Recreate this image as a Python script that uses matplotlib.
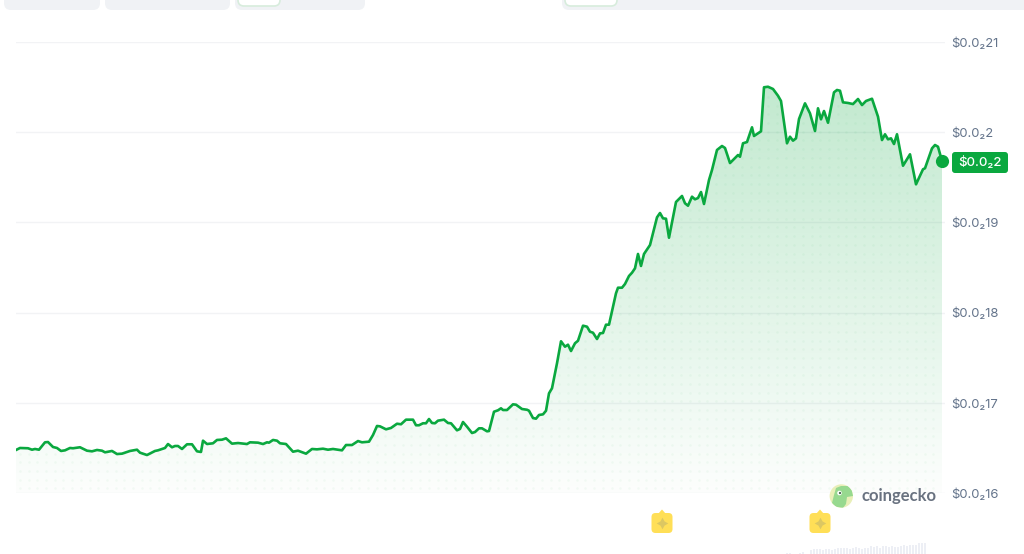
import numpy as np
import matplotlib
matplotlib.use("Agg")
import matplotlib.pyplot as plt
from matplotlib.patches import FancyBboxPatch, Circle, Polygon
from matplotlib.colors import LinearSegmentedColormap, to_rgb

plt.rcParams['font.family'] = ['Inter', 'DejaVu Sans']

time_steps = [16,20,28,32,35,39,45,48,53,57,61,65,70,73,80,87,92,97,102,105,112,117,122,130,137,140,147,155,158,163,165,168,172,175,178,182,187,192,197,201,203,207,213,217,222,226,232,238,247,250,258,263,267,269,273,277,280,286,293,298,306,312,317,323,328,333,342,346,352,358,362,369,373,377,380,386,391,397,401,406,413,416,419,423,426,429,432,435,438,444,448,451,457,460,463,467,472,475,479,482,487,489,494,498,501,503,507,513,516,522,527,529,533,536,539,543,546,549,552,557,561,565,568,571,575,578,583,587,590,593,597,600,603,606,609,616,618,622,625,629,632,635,638,641,644,650,657,660,663,666,669,676,682,685,688,692,695,698,701,704,709,712,717,722,725,730,735,738,740,743,747,752,754,761,764,768,773,778,781,787,790,793,796,799,805,810,815,818,821,824,828,834,837,840,843,848,853,858,862,866,872,878,882,885,888,891,894,897,903,910,916,923,925,932,935,938,942]
price_units = [16.477,16.499,16.496,16.480,16.488,16.480,16.562,16.565,16.510,16.499,16.466,16.473,16.499,16.496,16.507,16.469,16.462,16.477,16.469,16.451,16.466,16.432,16.436,16.466,16.480,16.447,16.421,16.466,16.473,16.491,16.499,16.543,16.507,16.521,16.521,16.488,16.540,16.540,16.462,16.455,16.580,16.543,16.551,16.588,16.591,16.606,16.547,16.554,16.543,16.562,16.558,16.543,16.562,16.558,16.588,16.580,16.551,16.543,16.458,16.469,16.436,16.488,16.484,16.491,16.480,16.488,16.473,16.532,16.532,16.576,16.562,16.569,16.643,16.743,16.739,16.706,16.721,16.768,16.762,16.813,16.813,16.751,16.751,16.773,16.773,16.820,16.776,16.773,16.802,16.813,16.776,16.773,16.695,16.710,16.787,16.735,16.665,16.676,16.717,16.717,16.684,16.687,16.901,16.917,16.939,16.920,16.920,16.983,16.979,16.931,16.923,16.912,16.831,16.824,16.865,16.872,16.912,17.105,17.161,17.438,17.682,17.622,17.644,17.574,17.660,17.688,17.855,17.844,17.788,17.777,17.707,17.770,17.774,17.866,17.866,18.214,18.276,18.276,18.317,18.406,18.442,18.491,18.650,18.517,18.650,18.749,19.056,19.104,19.045,19.041,18.830,19.226,19.293,19.212,19.185,19.285,19.256,19.270,19.337,19.204,19.470,19.581,19.803,19.847,19.825,19.658,19.714,19.747,19.728,19.877,19.891,20.054,19.958,20.010,20.498,20.504,20.479,20.404,20.346,19.877,19.950,19.906,19.932,20.146,20.320,20.209,20.013,20.265,20.143,20.235,20.105,20.442,20.468,20.460,20.331,20.324,20.312,20.368,20.301,20.346,20.371,20.172,19.913,19.977,19.921,19.932,19.869,19.977,19.628,19.755,19.422,19.589,19.600,19.821,19.858,19.839,19.680]
tick_values = [16, 17, 18, 19, 20, 21]
tick_labels = ["$0.0₂16", "$0.0₂17", "$0.0₂18", "$0.0₂19", "$0.0₂2", "$0.0₂21"]
current_label = "$0.0₂2"
event_steps = [662, 820]
volume_steps = [787,790,800,803,811,814,817,820,823,826,829,832,835,838,841,844,847,850,853,856,859,862,865,868,871,874,877,880,883,886,889,892,895,898,901,904,907,910,913,916,919,922,925]
volume_values = [1,1,1,2,4,5,5,5,4,5,5,4,5,6,6,6,6,5,6,7,6,5,6,6,8,7,8,6,8,8,7,8,7,7,8,9,8,9,9,9,11,11,11]

GREEN = "#0aa83f"
W, H = 1024, 554
fig = plt.figure(figsize=(W / 100, H / 100), dpi=100, facecolor="white")

x0, x1, ytop, ybot = 16, 945, 42, 493
ax = fig.add_axes([x0 / W, (H - ybot) / H, (x1 - x0) / W, (ybot - ytop) / H])
ax.set_facecolor("none")
for s in ax.spines.values():
    s.set_visible(False)

poly = ax.fill_between(time_steps, price_units, 16, color="none", linewidth=0)
clip = poly.get_paths()[0]

rgb = to_rgb(GREEN)
cmap = LinearSegmentedColormap.from_list("fade", [(*rgb, 0.012), (*rgb, 0.25)])
img = ax.imshow(np.linspace(1, 0, 256).reshape(-1, 1), extent=(16, 942, 16, 20.5),
                aspect="auto", cmap=cmap, vmin=0, vmax=1, zorder=1, interpolation="bilinear")
img.set_clip_path(clip, ax.transData)

gx, gy = np.meshgrid(np.arange(20, 942, 8.7), np.arange(16.05, 20.5, 8.7 / 90.2))
dots = ax.scatter(gx.ravel(), gy.ravel(), s=3.4, color=GREEN, alpha=0.04, linewidths=0, zorder=2)
dots.set_clip_path(clip, ax.transData)

ax.plot(time_steps, price_units, color=GREEN, lw=1.9, solid_joinstyle="round", zorder=4)
ax.set_xlim(x0, x1)
ax.set_ylim(16, 21)
ax.set_xticks([])
ax.yaxis.tick_right()
ax.set_yticks(tick_values)
ax.set_yticklabels(tick_labels)
ax.tick_params(axis="y", length=0, pad=4.5, labelsize=9.4, labelcolor="#64748b")
ax.grid(axis="y", color="#f2f3f5", lw=1)
ax.set_axisbelow(True)
ax.plot(time_steps[-1], price_units[-1], "o", ms=9.5, color=GREEN, mec="none", clip_on=False, zorder=5)

vax = fig.add_axes([x0 / W, 0, (x1 - x0) / W, 14 / H])
vax.bar(volume_steps, volume_values, width=2.1, color="#edeff5", linewidth=0)
vax.set_xlim(x0, x1)
vax.set_ylim(0, 14)
vax.axis("off")

deco = fig.add_axes([0, 0, 1, 1], zorder=10)
deco.set_xlim(0, W)
deco.set_ylim(H, 0)
deco.axis("off")
deco.patch.set_alpha(0)

def pill(x, y, w, h, r, fc, ec="none", lw=0, z=2):
    p = FancyBboxPatch((x + r, y + r), w - 2 * r, h - 2 * r,
                       boxstyle=f"round,pad={r},rounding_size={r}",
                       fc=fc, ec=ec, lw=lw, zorder=z, mutation_aspect=1)
    deco.add_patch(p)

for x, w in [(4, 96), (105, 125), (235, 130), (562, 470)]:
    pill(x, -20, w, 30, 7, "#f0f2f5")
for x, w in [(238, 42), (565, 52)]:
    pill(x, -20, w, 26, 6, "white", ec="#d7ecdc", lw=1.2, z=3)

pill(952, 152, 56, 21, 3, GREEN)
deco.text(980, 162.5, current_label, color="white", fontsize=9.5, ha="center", va="center",
          fontweight="medium", zorder=4)

for ex in event_steps:
    pill(ex - 10.5, 513, 21, 20, 4, "#ffdf57", z=3)
    deco.add_patch(Polygon([[ex - 4, 514], [ex, 509.5], [ex + 4, 514]], fc="#ffdf57", ec="none", zorder=3))
    deco.scatter([ex], [523], marker=(4, 1, 0), s=70, color="#dcc762", linewidths=0, zorder=4)

logo = Circle((841.3, 496), 11.7, fc="#e9efb8", ec="none", zorder=3)
deco.add_patch(logo)
body = Polygon([[836, 488], [841, 486], [848, 486], [852, 490], [853, 496], [847, 497],
                [846, 504], [843, 508], [836, 507], [832, 503], [834, 495]],
               fc="#97d98f", ec="none", zorder=4)
deco.add_patch(body)
body.set_clip_path(logo)
deco.add_patch(Circle((839.5, 493), 2.3, fc="white", ec="none", zorder=5))
deco.add_patch(Circle((840, 493), 1.1, fc="#46604a", ec="none", zorder=6))
deco.text(861.5, 495.5, "coingecko", color="#697280", fontsize=12, fontweight="bold",
          family=["Lato", "DejaVu Sans"], ha="left", va="center", zorder=4)

fig.savefig("out.png", dpi=100, facecolor="white")
